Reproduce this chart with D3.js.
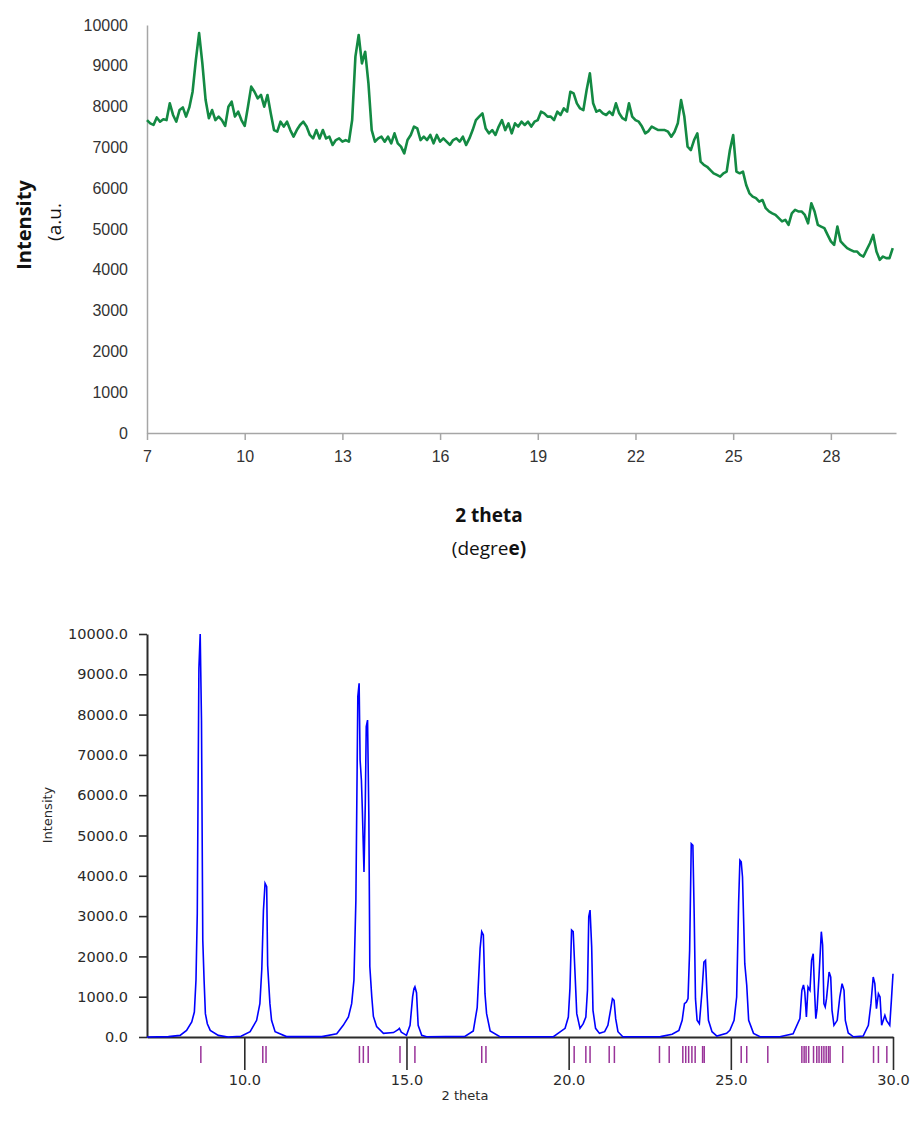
<!DOCTYPE html>
<html lang="en">
<head>
<meta charset="utf-8">
<script src="https://d3js.org/d3.v7.min.js"></script>
<style>
    body { margin: 0; background: #fff; }
    svg { display: block; }
</style>
</head>
<body>
<script>
// measured pattern (top): start angle, step, intensities
var measStart = 7.0, measStep = 0.1;
var measIntensity = [
    7670, 7590, 7550, 7735, 7630, 7690, 7670, 8080, 7795, 7630,
    7915, 7980, 7755, 7980, 8365, 9140, 9800, 9060, 8160, 7715,
    7915, 7670, 7755, 7670, 7525, 7998, 8120, 7755, 7875, 7670,
    7525, 7998, 8490, 8365, 8200, 8285, 7998, 8285, 7835, 7425,
    7385, 7630, 7510, 7630, 7425, 7263, 7425, 7550, 7630, 7510,
    7305, 7220, 7425, 7220, 7425, 7220, 7263, 7060, 7180, 7220,
    7140, 7180, 7140, 7670, 9225, 9755, 9060, 9345, 8570, 7425,
    7140, 7220, 7263, 7140, 7263, 7100, 7345, 7100, 7018, 6855,
    7180, 7305, 7510, 7465, 7180, 7263, 7180, 7305, 7100, 7305,
    7140, 7220, 7140, 7060, 7180, 7220, 7140, 7263, 7060, 7220,
    7425, 7670, 7755, 7835, 7465, 7345, 7425, 7305, 7510, 7670,
    7425, 7590, 7345, 7590, 7510, 7630, 7550, 7630, 7510, 7630,
    7670, 7875, 7835, 7755, 7755, 7670, 7875, 7795, 7955, 7875,
    8365, 8325, 8080, 7955, 7915, 8405, 8815, 8080, 7875, 7915,
    7835, 7795, 7875, 7795, 8080, 7835, 7715, 7670, 8080, 7755,
    7670, 7630, 7510, 7345, 7400, 7510, 7465, 7425, 7425, 7425,
    7385, 7263, 7385, 7590, 8160, 7755, 7018, 6935, 7180, 7345,
    6650, 6570, 6525, 6445, 6365, 6325, 6285, 6365, 6405, 6935,
    7305, 6405, 6365, 6405, 6080, 5875, 5795, 5755, 5670, 5710,
    5510, 5430, 5385, 5345, 5265, 5185, 5225, 5100, 5385, 5470,
    5430, 5430, 5345, 5140, 5630, 5430, 5100, 5060, 5020, 4855,
    4695, 4610, 5060, 4695, 4610, 4530, 4490, 4450, 4450, 4365,
    4325, 4490, 4650, 4855, 4450, 4245, 4325, 4285, 4285, 4530
];
var topXTicks = [7, 10, 13, 16, 19, 22, 25, 28];
var topYTicks = [0, 1000, 2000, 3000, 4000, 5000, 6000, 7000, 8000, 9000, 10000];

// calculated pattern (bottom)
var calcTheta = [
    7.00, 7.66, 8.02, 8.22, 8.38, 8.46, 8.51, 8.55, 8.60, 8.64, 8.68, 8.72, 8.76, 8.80, 8.86, 8.95, 9.20, 9.50,
    9.90, 10.18, 10.38, 10.48, 10.54, 10.59, 10.64, 10.69, 10.72, 10.79, 10.84, 10.95, 11.30,
    12.39, 12.85, 13.05, 13.21, 13.31, 13.38, 13.44, 13.50, 13.54, 13.57, 13.61, 13.64, 13.69, 13.73, 13.76, 13.80,
    13.84, 13.87, 13.93, 13.98, 14.08, 14.29, 14.60, 14.74, 14.78, 14.84, 14.90, 15.00, 15.11, 15.19, 15.23, 15.26,
    15.31, 15.36, 15.47, 15.62,
    16.80, 17.06, 17.18, 17.27, 17.32, 17.37, 17.42, 17.47, 17.58, 17.88,
    19.53, 19.89, 19.99, 20.04, 20.09, 20.14, 20.19, 20.25, 20.35, 20.45, 20.53, 20.58, 20.62, 20.66, 20.71, 20.75,
    20.83, 20.95, 21.11, 21.21, 21.29, 21.35, 21.40, 21.45, 21.52, 21.67,
    22.83, 23.19, 23.40, 23.50, 23.57, 23.63, 23.68, 23.73, 23.78, 23.83, 23.87, 23.91, 23.96, 24.03, 24.11, 24.17,
    24.22, 24.26, 24.31, 24.42, 24.57, 24.87, 24.97, 25.10, 25.18, 25.24, 25.28, 25.32, 25.36, 25.43, 25.49, 25.55,
    25.70, 25.90,
    26.51, 26.92, 27.13, 27.19, 27.24, 27.28, 27.33, 27.38, 27.44, 27.49, 27.54, 27.58, 27.62, 27.66, 27.72, 27.79,
    27.83, 27.87, 27.91, 27.95, 28.03, 28.08, 28.12, 28.18, 28.28, 28.36, 28.43, 28.49, 28.53, 28.62, 28.78, 29.08,
    29.24, 29.32, 29.39, 29.44, 29.49, 29.55, 29.60, 29.65, 29.70, 29.75, 29.80, 29.90, 29.95, 30.00
];
var calcIntensity = [
    0, 10, 40, 165, 375, 620, 1410, 3060, 9150, 10000, 7850, 2400, 1410, 580, 330, 165, 40, 0,
    20, 132, 414, 827, 1695, 3143, 3813, 3730, 1778, 827, 414, 132, 10,
    10, 80, 290, 496, 827, 1410, 3390, 8450, 8775, 6872, 6377, 5623, 4094, 5788, 7700, 7865,
    5457, 1750, 1000, 510, 260, 90, 110, 180, 215, 120, 90, 40, 290, 1000, 1200, 1248,
    1100, 290, 40, 5,
    15, 150, 730, 2200, 2613, 2530, 1075, 580, 150, 5,
    10, 215, 496, 1207, 2654, 2613, 1700, 580, 215, 331, 496, 1158, 2985, 3150, 2233, 662,
    215, 90, 132, 290, 662, 951, 910, 455, 132, 5,
    10, 70, 165, 414, 827, 868, 951, 2150, 4796, 4755, 3060, 951, 414, 330, 1117, 1860,
    1902, 1158, 414, 132, 25, 90, 165, 414, 992, 3320, 4390, 4350, 3970, 1820, 1290, 414,
    90, 5,
    5, 80, 455, 1158, 1290, 1117, 496, 1240, 1158, 1902, 2068, 1158, 455, 703, 1530, 2613,
    2282, 827, 744, 951, 1612, 1488, 662, 290, 414, 992, 1323, 1158, 414, 100, 5, 25,
    290, 827, 1488, 1323, 703, 1075, 992, 290, 414, 537, 414, 290, 910, 1571
];
// reflection positions
var reflections = [
    8.66, 10.57, 10.67, 13.55, 13.67, 13.82, 14.80, 15.26, 17.32, 17.45,
    20.17, 20.53, 20.66, 21.25, 21.41, 22.80, 23.10, 23.52, 23.61, 23.70, 23.80, 23.90,
    24.13, 24.18, 25.32, 25.49, 26.14,
    27.19, 27.26, 27.32, 27.40, 27.55, 27.65, 27.72, 27.80, 27.87, 27.94, 28.01, 28.06,
    28.45, 29.40, 29.55, 29.81
];
var bottomXTicks = [10, 15, 20, 25, 30];
var bottomYTicks = [0, 1000, 2000, 3000, 4000, 5000, 6000, 7000, 8000, 9000, 10000];

var svg = d3.select("body").append("svg")
    .attr("width", 911)
    .attr("height", 1131);

// ---------- top chart ----------
var x1 = d3.scaleLinear().domain([7, 30]).range([147, 896]);
var y1 = d3.scaleLinear().domain([0, 10000]).range([433, 25]);

var measData = measIntensity.map(function(v, i) {
    return { t: measStart + i * measStep, v: v };
});

var gx1 = svg.append("g")
    .attr("transform", "translate(0,433)")
    .call(d3.axisBottom(x1).tickValues(topXTicks).tickFormat(d3.format("d"))
        .tickSize(7).tickSizeOuter(0).tickPadding(11));
var gy1 = svg.append("g")
    .attr("transform", "translate(147,0)")
    .call(d3.axisLeft(y1).tickValues(topYTicks).tickFormat(d3.format("d"))
        .tickSize(0).tickPadding(19));

[gx1, gy1].forEach(function(g) {
    g.select(".domain").attr("stroke", "#a6a6a6").attr("stroke-width", 1.5);
    g.selectAll(".tick line").attr("stroke", "#a6a6a6").attr("stroke-width", 1.5);
    g.selectAll(".tick text")
        .attr("fill", "#333")
        .style("font-family", "'Liberation Sans', Arial, sans-serif")
        .style("font-size", "16px");
});

svg.append("path")
    .datum(measData)
    .attr("fill", "none")
    .attr("stroke", "#138a43")
    .attr("stroke-width", 2.6)
    .attr("stroke-linejoin", "round")
    .attr("d", d3.line()
        .x(function(d) { return x1(d.t); })
        .y(function(d) { return y1(d.v); }));

svg.append("text")
    .attr("transform", "translate(23,225) rotate(-90)")
    .attr("text-anchor", "middle")
    .attr("dominant-baseline", "central")
    .style("font-family", "'Open Sans', sans-serif")
    .style("font-size", "20px")
    .style("font-weight", "bold")
    .attr("fill", "#111")
    .text("Intensity");

svg.append("text")
    .attr("transform", "translate(54,222) rotate(-90)")
    .attr("text-anchor", "middle")
    .attr("dominant-baseline", "central")
    .style("font-family", "'Open Sans', sans-serif")
    .style("font-size", "19px")
    .attr("fill", "#111")
    .text("(a.u.");

svg.append("text")
    .attr("x", 489).attr("y", 515)
    .attr("text-anchor", "middle")
    .attr("dominant-baseline", "central")
    .style("font-family", "'Open Sans', sans-serif")
    .style("font-size", "19px")
    .style("font-weight", "bold")
    .attr("fill", "#111")
    .text("2 theta");

var deg = svg.append("text")
    .attr("x", 489).attr("y", 548)
    .attr("text-anchor", "middle")
    .attr("dominant-baseline", "central")
    .style("font-family", "'Open Sans', sans-serif")
    .style("font-size", "19px")
    .attr("fill", "#111");
deg.append("tspan").text("(degre");
deg.append("tspan").style("font-weight", "bold").text("e)");

// ---------- bottom chart ----------
var x2 = d3.scaleLinear().domain([7, 30]).range([147, 893]);
var y2 = d3.scaleLinear().domain([0, 10000]).range([1037, 634]);

var gx2 = svg.append("g")
    .attr("transform", "translate(0,1037)")
    .call(d3.axisBottom(x2).tickValues(bottomXTicks).tickFormat(d3.format(".1f"))
        .tickSize(33).tickSizeOuter(0).tickPadding(5));
var gy2 = svg.append("g")
    .attr("transform", "translate(147,0)")
    .call(d3.axisLeft(y2).tickValues(bottomYTicks).tickFormat(d3.format(".1f"))
        .tickSize(8).tickSizeOuter(0).tickPadding(11));

[gx2, gy2].forEach(function(g) {
    g.select(".domain").attr("stroke", "#2b2b2b").attr("stroke-width", 2);
    g.selectAll(".tick line").attr("stroke", "#2b2b2b").attr("stroke-width", 1.6);
    g.selectAll(".tick text")
        .attr("fill", "#2a2a2a")
        .style("font-family", "'DejaVu Sans', Verdana, sans-serif")
        .style("font-size", "14.5px");
});

svg.append("g")
    .selectAll("line")
    .data(reflections)
    .enter()
    .append("line")
    .attr("x1", function(d) { return x2(d); })
    .attr("x2", function(d) { return x2(d); })
    .attr("y1", 1046)
    .attr("y2", 1063)
    .attr("stroke", "#993399")
    .attr("stroke-width", 1.5);

var calcData = calcTheta.map(function(t, i) { return { t: t, v: calcIntensity[i] }; });

svg.append("path")
    .datum(calcData)
    .attr("fill", "none")
    .attr("stroke", "#0000ff")
    .attr("stroke-width", 1.6)
    .attr("d", d3.line()
        .x(function(d) { return x2(d.t); })
        .y(function(d) { return y2(d.v); }));

svg.append("text")
    .attr("transform", "translate(47,815) rotate(-90)")
    .attr("text-anchor", "middle")
    .attr("dominant-baseline", "central")
    .style("font-family", "'DejaVu Sans', Verdana, sans-serif")
    .style("font-size", "13px")
    .attr("fill", "#2a2a2a")
    .text("Intensity");

svg.append("text")
    .attr("x", 465).attr("y", 1095)
    .attr("text-anchor", "middle")
    .attr("dominant-baseline", "central")
    .style("font-family", "'DejaVu Sans', Verdana, sans-serif")
    .style("font-size", "13px")
    .attr("fill", "#2a2a2a")
    .text("2 theta");
</script>
</body>
</html>
